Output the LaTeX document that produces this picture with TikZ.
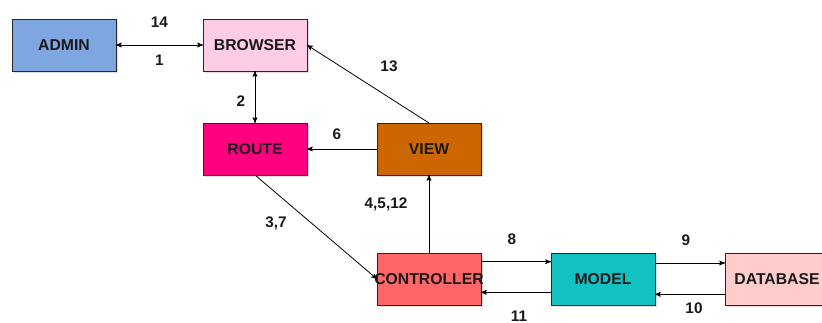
\documentclass[tikz,border=0pt]{standalone}
\usepackage{fontspec}
\setmainfont{Liberation Sans}
\usepackage{tikz}
\usetikzlibrary{arrows,positioning,shadows}

\definecolor{adminblue}{HTML}{7EA6E0}
\definecolor{browserpink}{HTML}{FFCCE6}
\definecolor{routemagenta}{HTML}{FF0080}
\definecolor{viewbrown}{HTML}{CC6600}
\definecolor{controllerred}{HTML}{FF6666}
\definecolor{modelteal}{HTML}{12C2C2}
\definecolor{databasepink}{HTML}{FFCCCC}

\begin{document}
\begin{tikzpicture}[
    box/.style={rectangle, draw=black!85, line width=0.6pt, minimum width=78pt, minimum height=39pt,
        inner sep=0pt, outer sep=0pt, drop shadow={shadow xshift=1.5pt, shadow yshift=-1.5pt, opacity=0.25},
        text centered, font=\fontsize{11.8}{14}\selectfont\bfseries, text=black!90},
    num/.style={font=\fontsize{11.5}{13}\selectfont\bfseries, text=black!90},
    flow/.style={->, >=stealth', line width=0.6pt},
    both/.style={<->, >=stealth', line width=0.6pt}
    ]
    \useasboundingbox (-48pt,-207.75pt) rectangle (568.5pt,33.75pt);

    % boxes
    \node (Admin) [box, fill=adminblue] at (0,0) {ADMIN};
    \node (Browser) [box, fill=browserpink, right=65.25pt of Admin] {BROWSER};
    \node (Route) [box, fill=routemagenta, below=39pt of Browser] {ROUTE};
    \node (View) [box, fill=viewbrown, right=52.5pt of Route] {VIEW};
    \node (Controller) [box, fill=controllerred, below=58.5pt of View] {\makebox[78pt]{CONTROLLER}};
    \node (Model) [box, fill=modelteal, right=52.5pt of Controller] {MODEL};
    \node (Database) [box, fill=databasepink, right=52.5pt of Model] {DATABASE};

    % request / response flow
    \draw [both] (Admin) -- (Browser)
        node [num, midway, yshift=17.25pt] {14}
        node [num, midway, yshift=-11.25pt] {1};
    \draw [both] (Browser) -- (Route)
        node [num, midway, xshift=-10.5pt, yshift=-3pt] {2};
    \draw [flow] (View.north) -- (Browser.east)
        node [num, midway, xshift=15.75pt, yshift=13.5pt] {13};
    \draw [flow] (View) -- (Route)
        node [num, midway, xshift=-3.75pt, yshift=11.25pt] {6};
    \draw [flow] (Route.south) -- (Controller.west)
        node [num, midway, xshift=-30pt, yshift=3pt] {3,7};
    \draw [flow] (Controller) -- (View)
        node [num, midway, xshift=-32.25pt, yshift=7.5pt] {4,5,12};
    \draw [flow] ([yshift=13pt]Controller.east) -- ([yshift=13pt]Model.west)
        node [num, midway, xshift=-3pt, yshift=16.5pt] {8};
    \draw [flow] ([yshift=-10pt]Model.west) -- ([yshift=-10pt]Controller.east)
        node [num, midway, xshift=2.25pt, yshift=-18pt] {11};
    \draw [flow] ([yshift=12pt]Model.east) -- ([yshift=12pt]Database.west)
        node [num, midway, xshift=-3pt, yshift=17.25pt] {9};
    \draw [flow] ([yshift=-11.5pt]Database.west) -- ([yshift=-11.5pt]Model.east)
        node [num, midway, xshift=3pt, yshift=-10.5pt] {10};
\end{tikzpicture}
\end{document}
